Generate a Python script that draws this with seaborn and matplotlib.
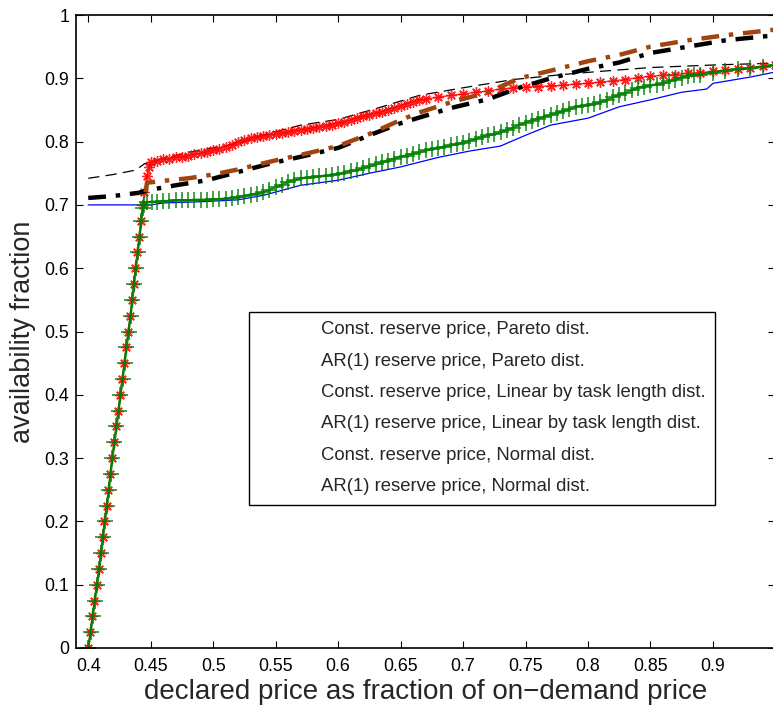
import matplotlib
matplotlib.use("Agg")
import matplotlib.pyplot as plt
import seaborn as sns
import numpy as np

# ---------------- data ----------------
labels = [
    "Const. reserve price, Pareto dist.",
    "AR(1) reserve price, Pareto dist.",
    "Const. reserve price, Linear by task length dist.",
    "AR(1) reserve price, Linear by task length dist.",
    "Const. reserve price, Normal dist.",
    "AR(1) reserve price, Normal dist.",
]

const_pareto_x = [0.40, 0.42, 0.438, 0.445, 0.46, 0.48, 0.50, 0.52, 0.545, 0.57, 0.60, 0.63,
                  0.665, 0.70, 0.74, 0.78, 0.81, 0.85, 0.90, 0.95]
const_pareto_y = [0.742, 0.748, 0.755, 0.765, 0.773, 0.783, 0.790, 0.797, 0.813, 0.826, 0.835, 0.852,
                  0.873, 0.885, 0.898, 0.906, 0.911, 0.917, 0.921, 0.924]

ar_pareto_x = [0.4000, 0.4017, 0.4033, 0.4050, 0.4068, 0.4085, 0.4100, 0.4115, 0.4130, 0.4147,
               0.4162, 0.4176, 0.4190, 0.4207, 0.4223, 0.4240, 0.4255, 0.4272, 0.4288, 0.4303,
               0.4320, 0.4336, 0.4350, 0.4363, 0.4378, 0.4393, 0.4408, 0.4421, 0.4435,
               0.445, 0.447, 0.449,
               0.45, 0.455, 0.46, 0.465, 0.47, 0.475, 0.48, 0.485, 0.49, 0.495, 0.50, 0.505, 0.51,
               0.515, 0.52, 0.525, 0.53, 0.535, 0.54, 0.545, 0.55, 0.555, 0.56, 0.565,
               0.57, 0.575, 0.58, 0.585, 0.59, 0.595, 0.60, 0.605, 0.61, 0.615, 0.62, 0.625, 0.63,
               0.635, 0.64, 0.645, 0.65, 0.655, 0.66, 0.665, 0.67, 0.68, 0.69,
               0.70, 0.71, 0.72, 0.73, 0.74, 0.75, 0.76, 0.77, 0.78, 0.79, 0.80, 0.81, 0.82,
               0.83, 0.84, 0.85, 0.86, 0.87, 0.88, 0.89, 0.90, 0.91, 0.92, 0.93, 0.94, 0.95]
ar_pareto_y = [0.000, 0.025, 0.050, 0.075, 0.100, 0.125, 0.150, 0.175, 0.200, 0.225,
               0.250, 0.275, 0.300, 0.325, 0.350, 0.375, 0.400, 0.425, 0.450, 0.475,
               0.500, 0.525, 0.550, 0.575, 0.600, 0.625, 0.650, 0.675, 0.700,
               0.720, 0.745, 0.760,
               0.768, 0.770, 0.772, 0.773, 0.775, 0.776, 0.778, 0.780, 0.782, 0.784, 0.786, 0.789, 0.792,
               0.795, 0.799, 0.803, 0.806, 0.808, 0.809, 0.811, 0.812, 0.813, 0.815, 0.817,
               0.819, 0.820, 0.822, 0.823, 0.825, 0.827, 0.829, 0.831, 0.834, 0.837, 0.840, 0.842, 0.845,
               0.847, 0.850, 0.853, 0.856, 0.860, 0.863, 0.866, 0.867, 0.870, 0.873,
               0.875, 0.878, 0.880, 0.883, 0.885, 0.886, 0.887, 0.888, 0.889, 0.891, 0.892, 0.894, 0.896,
               0.898, 0.901, 0.903, 0.905, 0.906, 0.908, 0.909, 0.911, 0.913, 0.915, 0.917, 0.919, 0.921]

const_linear_x = [0.40, 0.42, 0.44, 0.45, 0.47, 0.495, 0.52, 0.547, 0.57, 0.60, 0.625, 0.65,
                  0.665, 0.69, 0.72, 0.745, 0.77, 0.80, 0.825, 0.85, 0.88, 0.91, 0.95]
const_linear_y = [0.711, 0.714, 0.719, 0.724, 0.731, 0.739, 0.752, 0.766, 0.776, 0.790, 0.810, 0.829,
                  0.838, 0.853, 0.867, 0.885, 0.900, 0.915, 0.925, 0.940, 0.950, 0.960, 0.968]

ar_linear_x = [0.446, 0.447, 0.46, 0.48, 0.50, 0.52, 0.547, 0.57, 0.60, 0.625, 0.65, 0.665,
               0.69, 0.72, 0.745, 0.77, 0.80, 0.825, 0.85, 0.88, 0.91, 0.95]
ar_linear_y = [0.720, 0.735, 0.738, 0.742, 0.748, 0.756, 0.769, 0.779, 0.793, 0.812, 0.834, 0.846,
               0.862, 0.878, 0.900, 0.912, 0.927, 0.937, 0.950, 0.960, 0.968, 0.977]

const_normal_x = [0.40, 0.45, 0.46, 0.49, 0.52, 0.54, 0.57, 0.60, 0.625, 0.65, 0.68, 0.705,
                  0.73, 0.75, 0.77, 0.80, 0.825, 0.85, 0.875, 0.895, 0.90, 0.93, 0.95]
const_normal_y = [0.700, 0.700, 0.703, 0.705, 0.708, 0.715, 0.731, 0.739, 0.750, 0.760, 0.775, 0.785,
                  0.793, 0.810, 0.826, 0.837, 0.855, 0.866, 0.878, 0.883, 0.892, 0.902, 0.910]

ar_normal_x = [0.4000, 0.4019, 0.4036, 0.4053, 0.4071, 0.4088, 0.4103, 0.4118, 0.4133, 0.4150,
               0.4165, 0.4179, 0.4193, 0.4210, 0.4226, 0.4243, 0.4258, 0.4275, 0.4291, 0.4306,
               0.4323, 0.4339, 0.4353, 0.4366, 0.4381, 0.4396, 0.4411, 0.4424, 0.4438,
               0.445, 0.447, 0.451, 0.455, 0.46, 0.465, 0.47, 0.475, 0.48, 0.485, 0.49, 0.495,
               0.50, 0.505, 0.51, 0.515, 0.52, 0.525, 0.53, 0.535, 0.54, 0.545, 0.55, 0.555, 0.56, 0.565,
               0.57, 0.575, 0.58, 0.585, 0.59, 0.595, 0.60, 0.605, 0.61, 0.615, 0.62, 0.625, 0.63,
               0.635, 0.64, 0.645, 0.65, 0.655, 0.66, 0.665, 0.67, 0.675, 0.68, 0.685, 0.69, 0.695,
               0.70, 0.705, 0.71, 0.715, 0.72, 0.725, 0.73, 0.735, 0.74, 0.745, 0.75, 0.755, 0.76,
               0.765, 0.77, 0.775, 0.78, 0.785, 0.79, 0.795, 0.80, 0.805, 0.81, 0.815, 0.82,
               0.825, 0.83, 0.835, 0.84, 0.845, 0.85, 0.855, 0.86, 0.865, 0.87, 0.875, 0.88,
               0.885, 0.89, 0.90, 0.91, 0.92, 0.93, 0.94, 0.95]
ar_normal_y = [0.000, 0.025, 0.050, 0.075, 0.100, 0.125, 0.150, 0.175, 0.200, 0.225,
               0.250, 0.275, 0.300, 0.325, 0.350, 0.375, 0.400, 0.425, 0.450, 0.475,
               0.500, 0.525, 0.550, 0.575, 0.600, 0.625, 0.650, 0.675, 0.695,
               0.700, 0.704, 0.705, 0.705, 0.706, 0.706, 0.707, 0.707, 0.707, 0.708, 0.708, 0.708,
               0.709, 0.709, 0.710, 0.711, 0.712, 0.714, 0.716, 0.718, 0.720, 0.724, 0.728, 0.732, 0.736, 0.739,
               0.742, 0.743, 0.744, 0.745, 0.746, 0.747, 0.749, 0.751, 0.753, 0.755, 0.758, 0.761, 0.764,
               0.767, 0.770, 0.773, 0.776, 0.778, 0.781, 0.783, 0.786, 0.788, 0.790, 0.792, 0.794, 0.796,
               0.798, 0.801, 0.804, 0.807, 0.810, 0.812, 0.815, 0.818, 0.822, 0.826, 0.830, 0.833, 0.836,
               0.839, 0.842, 0.845, 0.848, 0.851, 0.855, 0.856, 0.858, 0.860, 0.862, 0.866, 0.870,
               0.874, 0.877, 0.881, 0.885, 0.887, 0.889, 0.890, 0.892, 0.895, 0.898, 0.901, 0.904,
               0.905, 0.906, 0.909, 0.912, 0.914, 0.916, 0.918, 0.921]

x_ticks = [0.4, 0.45, 0.5, 0.55, 0.6, 0.65, 0.7, 0.75, 0.8, 0.85, 0.9]
x_tick_labels = ["0.4", "0.45", "0.5", "0.55", "0.6", "0.65", "0.7", "0.75", "0.8", "0.85", "0.9"]
y_ticks = [0, 0.1, 0.2, 0.3, 0.4, 0.5, 0.6, 0.7, 0.8, 0.9, 1.0]
y_tick_labels = ["0", "0.1", "0.2", "0.3", "0.4", "0.5", "0.6", "0.7", "0.8", "0.9", "1"]

# ---------------- style ----------------
sns.set_style("white")
plt.rcParams["font.family"] = ["Liberation Sans", "DejaVu Sans"]

W, H = 773, 711
fig = plt.figure(figsize=(W / 100, H / 100), dpi=100)
ax = fig.add_axes([76 / W, 1 - 648 / H, (775.4 - 76) / W, (648 - 15) / H])

brown = "#A2440F"
green = "#008000"
asterisk = (8, 2, 0)

series = [
    (const_pareto_x, const_pareto_y, dict(color="black", linewidth=0.9, linestyle=(0, (9, 5)))),
    (ar_pareto_x, ar_pareto_y, dict(color="red", linewidth=1.0, marker=asterisk, markersize=7.5,
                                     markeredgewidth=1.0, markeredgecolor="red",
                                     markerfacecolor="red", alpha=0.85)),
    (const_linear_x, const_linear_y, dict(color="black", linewidth=3.2, linestyle=(0, (4, 2.2, 1, 2.2)))),
    (ar_linear_x, ar_linear_y, dict(color=brown, linewidth=3.2, linestyle=(0, (4, 2.2, 1, 2.2)))),
    (const_normal_x, const_normal_y, dict(color="blue", linewidth=0.9)),
    (ar_normal_x, ar_normal_y, dict(color=green, linewidth=1.8, marker="+", markersize=12,
                                     markeredgewidth=1.2, markeredgecolor=green, alpha=0.85)),
]

for (xs, ys, kw), lab in zip(series, labels):
    sns.lineplot(x=xs, y=ys, ax=ax, sort=False, estimator=None, label=lab, **kw)

ax.set_xlim(0.3902, 0.95)
ax.set_ylim(0, 1)
ax.set_xticks(x_ticks)
ax.set_xticklabels(x_tick_labels)
ax.set_yticks(y_ticks)
ax.set_yticklabels(y_tick_labels)
ax.tick_params(direction="in", length=5, width=0.8, labelsize=12.8, colors="black",
               top=True, right=True, bottom=True, left=True)
ax.tick_params(axis="x", pad=7)
ax.tick_params(axis="y", pad=5)
for s in ax.spines.values():
    s.set_color("black")
    s.set_linewidth(1.2)

ax.set_xlabel("declared price as fraction of on\u2212demand price", fontsize=20, labelpad=3)
ax.set_ylabel("availability fraction", fontsize=19.5, labelpad=6)

leg = ax.legend(loc="upper left", bbox_to_anchor=(249 / W, 1 - 312 / H),
                bbox_transform=fig.transFigure, fontsize=13.3, frameon=True,
                fancybox=False, edgecolor="black", framealpha=1, handlelength=2.7,
                labelspacing=0.78, borderpad=0.5, handletextpad=0.7, borderaxespad=0)
leg.get_frame().set_linewidth(1.0)
for h in leg.legend_handles:
    h.set_visible(False)

fig.savefig("out.png", dpi=100)
